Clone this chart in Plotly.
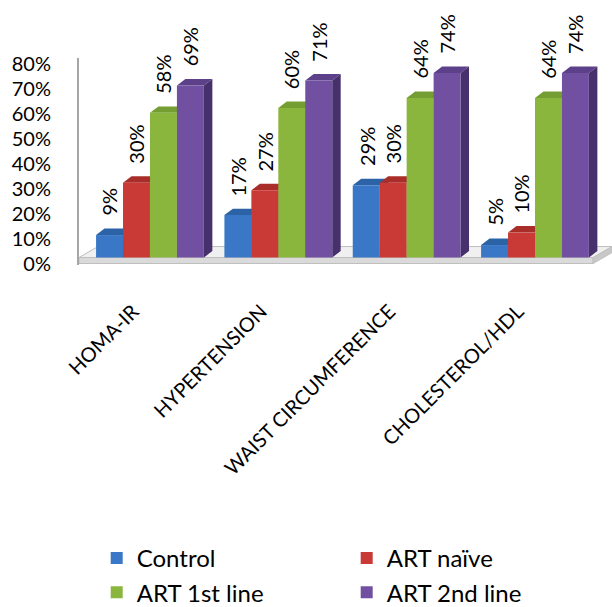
import plotly.graph_objects as go

# Prevalence of metabolic markers by study group
categories = ["HOMA-IR", "HYPERTENSION", "WAIST CIRCUMFERENCE", "CHOLESTEROL/HDL"]
groups = ["Control", "ART naïve", "ART 1st line", "ART 2nd line"]
control = [0.09, 0.17, 0.29, 0.05]
art_naive = [0.30, 0.27, 0.30, 0.10]
art_first = [0.58, 0.60, 0.64, 0.64]
art_second = [0.69, 0.71, 0.74, 0.74]
series = [control, art_naive, art_first, art_second]
y_ticks = [0.0, 0.1, 0.2, 0.3, 0.4, 0.5, 0.6, 0.7, 0.8]

front_colors = ["#3A77C6", "#C93A36", "#8BB63E", "#7150A1"]
top_colors = ["#2C62A6", "#A92E2A", "#749E32", "#5C418A"]
side_colors = ["#244F86", "#8A2421", "#5B7D27", "#46316C"]

FONT = "Lato"
bar_w = 0.21
offsets = [-0.315, -0.105, 0.105, 0.315]
dx, dy = 0.066, 0.026          # bar depth (x units, y units)
floor_front = -0.024           # front edge of the floor slab
x_lo, x_hi = -0.553, 3.453     # floor front corners
fdx, fdy = 0.148, 0.044        # floor depth

fig = go.Figure()
shapes = []

# floor slab
shapes.append(dict(type="path", xref="x", yref="y", layer="below",
                   path=f"M{x_lo},0 L{x_hi},0 L{x_hi+fdx},{fdy} L{x_lo+fdx},{fdy} Z",
                   fillcolor="#F0F0F0", line=dict(color="#BFBFBF", width=1)))
shapes.append(dict(type="path", xref="x", yref="y", layer="below",
                   path=f"M{x_lo},{floor_front} L{x_hi},{floor_front} L{x_hi},0 L{x_lo},0 Z",
                   fillcolor="#DADADA", line=dict(color="#BFBFBF", width=1)))
shapes.append(dict(type="path", xref="x", yref="y", layer="below",
                   path=f"M{x_hi},{floor_front} L{x_hi+fdx},{floor_front+fdy} L{x_hi+fdx},{fdy} L{x_hi},0 Z",
                   fillcolor="#C8C8C8", line=dict(color="#BFBFBF", width=1)))

annotations = []
for j, (name, vals) in enumerate(zip(groups, series)):
    xs = [i + offsets[j] for i in range(len(categories))]
    fig.add_trace(go.Bar(
        x=xs, y=vals, width=bar_w, name=name,
        marker=dict(color=front_colors[j], line=dict(width=0)),
        hoverinfo="skip",
    ))
    for xc, v in zip(xs, vals):
        x0, x1 = xc - bar_w / 2, xc + bar_w / 2
        # top face
        shapes.append(dict(type="path", xref="x", yref="y", layer="below",
                           path=f"M{x0},{v} L{x1},{v} L{x1+dx},{v+dy} L{x0+dx},{v+dy} Z",
                           fillcolor=top_colors[j], line=dict(width=0)))
        # right side face
        shapes.append(dict(type="path", xref="x", yref="y", layer="below",
                           path=f"M{x1},0 L{x1},{v} L{x1+dx},{v+dy} L{x1+dx},{dy} Z",
                           fillcolor=side_colors[j], line=dict(width=0)))
        annotations.append(dict(x=xc, y=v, xref="x", yref="y",
                                text=f"{round(v*100)}%", showarrow=False,
                                textangle=-90, xanchor="center", yanchor="bottom",
                                yshift=17, font=dict(family=FONT, size=20, color="black")))

fig.update_layout(
    width=612, height=607,
    margin=dict(l=79, r=0, t=58, b=342),
    paper_bgcolor="white", plot_bgcolor="rgba(0,0,0,0)",
    barmode="overlay",
    shapes=shapes, annotations=annotations,
    font=dict(family=FONT, color="black"),
    showlegend=True,
    legend=dict(orientation="h", xref="container", yref="container",
                x=0.158, y=0.117, xanchor="left", yanchor="top",
                entrywidth=205, entrywidthmode="pixels", itemwidth=30,
                tracegroupgap=0,
                font=dict(family=FONT, size=24, color="black"),
                traceorder="normal"),
)
fig.update_xaxes(
    range=[x_lo, 3.6], tickmode="array", tickvals=list(range(len(categories))),
    ticktext=categories, tickangle=-45, showgrid=False, zeroline=False,
    showline=False, ticks="", ticklabelstandoff=30, ticklabelshift=-17,
    tickfont=dict(family=FONT, size=20, color="black"),
)
fig.update_yaxes(
    range=[-0.03, 0.8], tickmode="array",
    tickvals=[t + floor_front for t in y_ticks],
    ticktext=[f"{round(t*100)}%" for t in y_ticks],
    showgrid=False, zeroline=False, showline=True, linecolor="#A6A6A6", linewidth=2,
    ticks="", ticklabelstandoff=22,
    tickfont=dict(family=FONT, size=20, color="black"),
)

fig.write_html("out.html")
